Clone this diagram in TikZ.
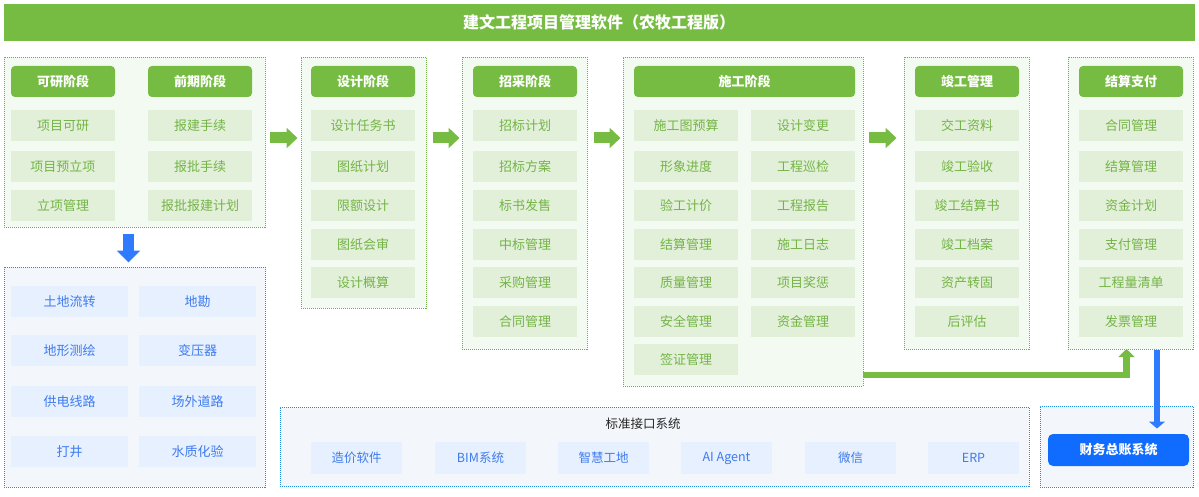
\documentclass[tikz,border=0pt]{standalone}
\usepackage{fontspec}
\newfontfamily\cjk{Noto Sans CJK SC}
\usetikzlibrary{arrows.meta}
\definecolor{gmain}{HTML}{76BC42}
\definecolor{gitembg}{HTML}{E2F0D9}
\definecolor{gitemtx}{HTML}{74B446}
\definecolor{ggrpbg}{HTML}{F2FAF1}
\definecolor{ggrpbd}{HTML}{70AD47}
\definecolor{bitembg}{HTML}{E6F0FE}
\definecolor{bitemtx}{HTML}{3F7BEF}
\definecolor{bgrpbg}{HTML}{F3F7FB}
\definecolor{bgrpbd}{HTML}{1E8FE6}
\definecolor{bbtn}{HTML}{0F6CFF}
\definecolor{barrow}{HTML}{2F7BFF}
\tikzset{
  base/.style={anchor=north west, inner sep=0pt, outer sep=0pt},
  ggrp/.style={base, fill=ggrpbg, draw=ggrpbd, line width=0.9pt, dash pattern=on 1pt off 1pt},
  bgrp/.style={base, fill=bgrpbg, draw=bgrpbd, line width=0.9pt, dash pattern=on 1pt off 1pt},
  hdr/.style={base, fill=gmain, rounded corners=4pt, minimum height=31pt, text=white, font=\cjk\bfseries\fontsize{13}{13}\selectfont},
  itembox/.style={base, fill=gitembg, minimum width=104pt, minimum height=31pt, text=gitemtx, font=\cjk\fontsize{13}{13}\selectfont},
  bitembox/.style={base, fill=bitembg, minimum width=117pt, minimum height=31pt, text=bitemtx, font=\cjk\fontsize{13}{13}\selectfont},
  iitembox/.style={base, fill=bitembg, minimum width=91pt, minimum height=32pt, text=bitemtx, font=\cjk\fontsize{12.5}{13}\selectfont},
  garrow/.style={draw=gmain, line width=11pt, -{Triangle[length=11pt,width=20pt]}},
}
\begin{document}
\begin{tikzpicture}[x=1pt,y=-1pt]
\useasboundingbox (0,0) rectangle (1199,497);
% title
\node[base, fill=gmain, minimum width=1191pt, minimum height=37pt] (title) at (4,4) {};
\node[text=white, font=\cjk\bfseries\fontsize{16}{16}\selectfont] (titletx) at (599,22) {建文工程项目管理软件（农牧工程版）};
% groups
\node[ggrp, minimum width=261pt, minimum height=170pt] (g1) at (4,57) {};
\node[ggrp, minimum width=125pt, minimum height=251pt] (g2) at (301,57) {};
\node[ggrp, minimum width=125pt, minimum height=292pt] (g3) at (462,57) {};
\node[ggrp, minimum width=240pt, minimum height=329pt] (g4) at (623,57) {};
\node[ggrp, minimum width=125pt, minimum height=292pt] (g5) at (904,57) {};
\node[ggrp, minimum width=125pt, minimum height=292pt] (g6) at (1068,57) {};
\node[bgrp, minimum width=261pt, minimum height=220pt] (bg) at (4,267) {};
\node[bgrp, minimum width=749pt, minimum height=79pt] (ig) at (280,407) {};
\node[bgrp, minimum width=153pt, minimum height=81pt] (fg) at (1040,406) {};
% group 1
\node[hdr, minimum width=104pt] (h1a) at (11,66) {可研阶段};
\node[hdr, minimum width=104pt] (h1b) at (148,66) {前期阶段};
\node[itembox] (a1) at (11,110) {项目可研};
\node[itembox] (a2) at (11,151) {项目预立项};
\node[itembox] (a3) at (11,190) {立项管理};
\node[itembox] (b1) at (148,110) {报建手续};
\node[itembox] (b2) at (148,151) {报批手续};
\node[itembox] (b3) at (148,190) {报批报建计划};
% group 2
\node[hdr, minimum width=104pt] (h2) at (311,66) {设计阶段};
\node[itembox] (c1) at (311,110) {设计任务书};
\node[itembox] (c2) at (311,151) {图纸计划};
\node[itembox] (c3) at (311,190) {限额设计};
\node[itembox] (c4) at (311,229) {图纸会审};
\node[itembox] (c5) at (311,267) {设计概算};
% group 3
\node[hdr, minimum width=104pt] (h3) at (473,66) {招采阶段};
\node[itembox] (d1) at (473,110) {招标计划};
\node[itembox] (d2) at (473,151) {招标方案};
\node[itembox] (d3) at (473,190) {标书发售};
\node[itembox] (d4) at (473,229) {中标管理};
\node[itembox] (d5) at (473,267) {采购管理};
\node[itembox] (d6) at (473,306) {合同管理};
% group 4
\node[hdr, minimum width=221pt] (h4) at (634,66) {施工阶段};
\node[itembox] (e1) at (634,110) {施工图预算};
\node[itembox] (e2) at (634,151) {形象进度};
\node[itembox] (e3) at (634,190) {验工计价};
\node[itembox] (e4) at (634,229) {结算管理};
\node[itembox] (e5) at (634,267) {质量管理};
\node[itembox] (e6) at (634,306) {安全管理};
\node[itembox] (e7) at (634,344) {签证管理};
\node[itembox] (f1) at (751,110) {设计变更};
\node[itembox] (f2) at (751,151) {工程巡检};
\node[itembox] (f3) at (751,190) {工程报告};
\node[itembox] (f4) at (751,229) {施工日志};
\node[itembox] (f5) at (751,267) {项目奖惩};
\node[itembox] (f6) at (751,306) {资金管理};
% group 5
\node[hdr, minimum width=104pt] (h5) at (915,66) {竣工管理};
\node[itembox] (k1) at (915,110) {交工资料};
\node[itembox] (k2) at (915,151) {竣工验收};
\node[itembox] (k3) at (915,190) {竣工结算书};
\node[itembox] (k4) at (915,229) {竣工档案};
\node[itembox] (k5) at (915,267) {资产转固};
\node[itembox] (k6) at (915,306) {后评估};
% group 6
\node[hdr, minimum width=104pt] (h6) at (1079,66) {结算支付};
\node[itembox] (m1) at (1079,110) {合同管理};
\node[itembox] (m2) at (1079,151) {结算管理};
\node[itembox] (m3) at (1079,190) {资金计划};
\node[itembox] (m4) at (1079,229) {支付管理};
\node[itembox] (m5) at (1079,267) {工程量清单};
\node[itembox] (m6) at (1079,306) {发票管理};
% blue left group
\node[bitembox] (p1) at (11,286) {土地流转};
\node[bitembox] (p2) at (139,286) {地勘};
\node[bitembox] (p3) at (11,335) {地形测绘};
\node[bitembox] (p4) at (139,335) {变压器};
\node[bitembox] (p5) at (11,386) {供电线路};
\node[bitembox] (p6) at (139,386) {场外道路};
\node[bitembox] (p7) at (11,436) {打井};
\node[bitembox] (p8) at (139,436) {水质化验};
% interface group
\node[text=black!85, font=\cjk\fontsize{12.5}{13}\selectfont] (igt) at (643,424) {标准接口系统};
\node[iitembox] (q1) at (311,442) {造价软件};
\node[iitembox] (q2) at (435,442) {BIM系统};
\node[iitembox] (q3) at (558,442) {智慧工地};
\node[iitembox] (q4) at (681,442) {AI Agent};
\node[iitembox] (q5) at (805,442) {微信};
\node[iitembox] (q6) at (928,442) {ERP};
% finance
\node[base, fill=bbtn, rounded corners=5pt, minimum width=141pt, minimum height=32pt, text=white, font=\cjk\bfseries\fontsize{13}{13}\selectfont] (btn) at (1048,434) {财务总账系统};
% arrows
\coordinate (a1s) at (270,138); \coordinate (a1e) at (297.5,138);
\coordinate (a2s) at (433,138); \coordinate (a2e) at (459.5,138);
\coordinate (a3s) at (594,138); \coordinate (a3e) at (620.5,138);
\coordinate (a4s) at (869,138); \coordinate (a4e) at (896.5,138);
\draw[garrow] (a1s) -- (a1e);
\draw[garrow] (a2s) -- (a2e);
\draw[garrow] (a3s) -- (a3e);
\draw[garrow] (a4s) -- (a4e);
\coordinate (bds) at (128.5,234); \coordinate (bde) at (128.5,262.5);
\draw[draw=barrow, line width=11pt, -{Triangle[length=12pt,width=23pt]}] (bds) -- (bde);
\coordinate (gcs) at (863,375); \coordinate (gce) at (1126.5,349);
\draw[draw=gmain, line width=6.5pt, line join=miter, -{Triangle[length=8pt,width=16pt]}] (gcs) -| (gce);
\coordinate (bcs) at (1157,349.5); \coordinate (bce) at (1157,428.5);
\draw[draw=barrow, line width=6.5pt, -{Triangle[length=7pt,width=16pt]}] (bcs) -- (bce);
\end{tikzpicture}
\end{document}
